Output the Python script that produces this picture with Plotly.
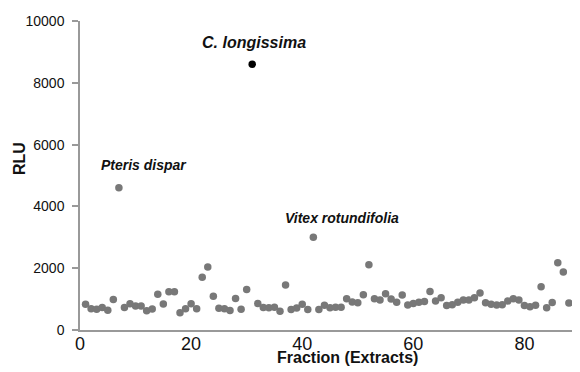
import plotly.graph_objects as go

fractions = list(range(1, 90))
rlu = [830, 690, 670, 730, 640, 990, 4600, 730, 850, 775,
       775, 625, 680, 1160, 840, 1240, 1240, 560, 690, 850,
       690, 1710, 2040, 1090, 700, 690, 630, 1020, 670, 1310,
       8600, 860, 730, 720, 740, 610, 1460, 660, 710, 830,
       660, 3000, 660, 800, 720, 740, 740, 1010, 910, 880,
       1140, 2110, 1010, 970, 1170, 1000, 900, 1130, 810, 860,
       900, 925, 1250, 935, 1040, 790, 820, 900, 970, 970,
       1040, 1200, 880, 830, 810, 820, 935, 1010, 970, 790,
       750, 800, 1400, 720, 890, 2180, 1880, 870, 870]
highlight_fraction = 31
y_ticks = [0, 2000, 4000, 6000, 8000, 10000]
y_tick_labels = ["0", "2000", "4000", "6000", "8000", "10000"]
x_ticks = [0, 20, 40, 60, 80]
labels = [
    ("C. longissima", 31.3, 9320, 16),
    ("Pteris dispar", 11.5, 5340, 14),
    ("Vitex rotundifolia", 47.2, 3625, 14),
]

colors = ["#000000" if f == highlight_fraction else "#787878" for f in fractions]

FONT = "Arial, Liberation Sans, sans-serif"

# page body has an 8px margin; figure sized so plot area lands at x 80..580, y 21..330
W, H = 572, 364
ML, MR, MT, MB = 72, 0, 13, 42
PW, PH = W - ML - MR, H - MT - MB

fig = go.Figure()
fig.add_trace(go.Scatter(
    x=fractions, y=rlu, mode="markers",
    marker=dict(color=colors, size=7.5, line=dict(width=0)),
    showlegend=False, hoverinfo="x+y",
))

for text, x, y, size in labels:
    fig.add_annotation(x=x, y=y, xref="x", yref="y", text=f"<b><i>{text}</i></b>",
                       showarrow=False, xanchor="center", yanchor="middle",
                       font=dict(family=FONT, size=size, color="#111"))

# x-axis title centred at page x≈347, y≈357
fig.add_annotation(x=(347 - 8 - ML) / PW, y=-(357 - 8 - MT - PH) / PH, xref="paper", yref="paper",
                   text="<b>Fraction (Extracts)</b>", showarrow=False,
                   yanchor="middle", xanchor="center",
                   font=dict(family=FONT, size=16, color="#111"))
# y-axis title centred at page x≈19, y≈159
fig.add_annotation(x=(19 - 8 - ML) / PW, y=1 - (159 - 8 - MT) / PH, xref="paper", yref="paper",
                   text="<b>RLU</b>", showarrow=False, textangle=-90,
                   xanchor="center", yanchor="middle",
                   font=dict(family=FONT, size=16, color="#111"))

fig.update_layout(
    width=W, height=H,
    margin=dict(l=ML, r=MR, t=MT, b=MB),
    paper_bgcolor="white", plot_bgcolor="white",
    font=dict(family=FONT, color="#111"),
    xaxis=dict(range=[0, 90], tickvals=x_ticks, showgrid=False, zeroline=False,
               showline=True, linecolor="#999", linewidth=1.5, ticks="",
               ticklabelstandoff=-3,
               tickfont=dict(size=18, family=FONT, color="#111")),
    yaxis=dict(range=[0, 10000], tickvals=y_ticks, ticktext=y_tick_labels,
               showgrid=False, zeroline=False,
               showline=True, linecolor="#999", linewidth=1.5, ticks="outside",
               ticklen=6, tickcolor="#999", tickwidth=1.5, ticklabelstandoff=5,
               tickfont=dict(size=14, family=FONT, color="#111")),
)

fig.write_html("out.html")
